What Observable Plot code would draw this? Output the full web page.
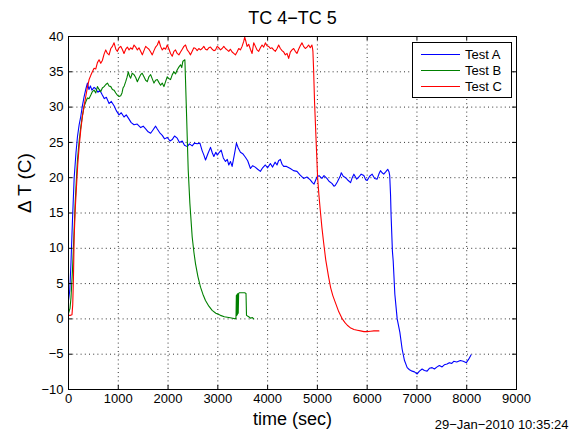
<!DOCTYPE html>
<html>
<head>
<meta charset="utf-8">
<script src="https://cdn.jsdelivr.net/npm/d3@7"></script>
<script src="https://cdn.jsdelivr.net/npm/@observablehq/plot@0.6"></script>
<style>
  body { margin: 0; background: #fff; }
  #wrap { position: relative; width: 574px; height: 434px; font-family: "Liberation Sans", Arial, Helvetica, sans-serif; }
  #legend { position: absolute; left: 412px; top: 42px; }
</style>
</head>
<body>
<div id="wrap"></div>
<script>
// ---- data ----
const xTicks = [0, 1000, 2000, 3000, 4000, 5000, 6000, 7000, 8000, 9000];
const yTicks = [-10, -5, 0, 5, 10, 15, 20, 25, 30, 35, 40];
const seriesNames = ["Test A", "Test B", "Test C"];
const seriesColors = ["#0000ff", "#008000", "#ff0000"];
const titleText = "TC 4\u2212TC 5";
const xLabel = "time (sec)";
const yLabel = "\u0394 T (C)";
const stamp = "29\u2212Jan\u22122010 10:35:24";

// [time (s), delta T (C)]
const testA = [[0,2.6],[25,4],[50,8],[80,14],[114,20],[150,23.5],[180,25.8],[214,27.5],[247,28.7],[280,30.2],[314,31.5],[350,32.6],[380,33.4],[410,32.5],[440,33],[470,32.4],[514,32.8],[548,32.6],[590,32.1],[630,32.4],[680,31.7],[720,31.2],[760,31.4],[815,30.5],[860,30.8],[915,30.2],[960,29.5],[1015,28.9],[1060,29.2],[1115,28.6],[1160,28.9],[1216,28.3],[1260,27.8],[1316,27.5],[1380,27.6],[1450,27.1],[1500,27.3],[1550,26.9],[1600,26.5],[1650,26.3],[1700,26.8],[1750,27.3],[1784,26.9],[1830,26.4],[1884,26],[1930,25.5],[1984,25.7],[2040,25.2],[2084,25.4],[2130,25.9],[2184,25.6],[2230,25],[2285,25.2],[2330,24.6],[2385,24.4],[2430,24.8],[2485,24.5],[2530,24.9],[2585,24.8],[2640,24.9],[2686,23.8],[2720,23.2],[2753,22.5],[2800,23.4],[2853,24.3],[2890,23.5],[2920,23],[2960,23.6],[2987,23.2],[3030,23.6],[3067,23.9],[3110,22.8],[3154,22.3],[3190,22.6],[3220,21.8],[3254,22.3],[3287,21.6],[3330,23.2],[3374,24.9],[3410,24.2],[3454,23.6],[3500,23.4],[3554,22.9],[3600,22.4],[3655,21.3],[3700,21.7],[3750,21.5],[3800,21.2],[3855,20.9],[3900,21.4],[3955,21.8],[4000,21.4],[4055,22],[4100,21.5],[4150,22.2],[4189,21.8],[4220,22.4],[4256,22.6],[4290,21.9],[4323,21.6],[4380,21.6],[4456,21.3],[4520,21],[4590,20.9],[4650,20.4],[4723,19.9],[4790,20.1],[4857,19.7],[4900,19.3],[4933,19.1],[4991,20.1],[5033,20.3],[5091,19.9],[5133,20.3],[5191,19.9],[5233,19.5],[5291,19.2],[5333,18.8],[5358,18.9],[5400,19.4],[5458,20.2],[5480,20.7],[5520,20.2],[5567,20],[5620,19.6],[5667,19.3],[5700,20],[5733,20.5],[5790,19.8],[5833,20.1],[5880,20.5],[5933,20.3],[5970,19.7],[6000,19.6],[6050,20.2],[6100,20.5],[6150,19.9],[6200,19.8],[6240,20.6],[6267,21],[6300,20.7],[6333,20.5],[6380,20.9],[6413,21.2],[6440,20.8],[6453,20.3],[6470,17.5],[6480,14.8],[6507,9.6],[6523,8.2],[6556,3.5],[6603,0],[6657,-1.9],[6703,-4.3],[6750,-5.9],[6804,-6.9],[6850,-7.2],[6904,-7.4],[6950,-7.5],[7004,-7.8],[7050,-7.4],[7104,-7.1],[7150,-7.3],[7204,-7.4],[7250,-7],[7305,-6.9],[7350,-7.1],[7405,-6.8],[7450,-6.6],[7505,-6.8],[7550,-6.5],[7605,-6.4],[7650,-6.2],[7700,-6.3],[7739,-6],[7800,-6.1],[7872,-5.9],[7930,-6],[7993,-6.2],[8040,-5.7],[8086,-5.1]];

const testB = [[0,0.8],[30,1.5],[50,3],[80,6.9],[110,12],[134,16.4],[160,20],[180,22.5],[214,25.2],[247,27.2],[280,28.8],[314,30.1],[350,30.8],[380,31.3],[414,31.2],[448,31.7],[480,32.2],[514,32.4],[548,32],[581,32.9],[615,32.5],[648,32.2],[680,32.7],[715,32.9],[750,33.2],[782,33.4],[815,33],[850,32.9],[882,32.5],[915,32.4],[950,32],[982,31.7],[1015,31.5],[1049,31.6],[1075,32],[1095,32.7],[1120,33],[1149,33.6],[1175,34.2],[1202,35],[1225,34.4],[1249,34.1],[1280,34.8],[1316,34.6],[1350,34.2],[1383,33.6],[1415,34.1],[1450,34.6],[1480,34.8],[1516,34.3],[1550,33.8],[1583,33.6],[1615,34.3],[1650,34.6],[1683,34],[1717,33.4],[1750,33.8],[1783,33.9],[1815,33.5],[1850,33.1],[1883,33.4],[1917,32.9],[1950,33.6],[1984,34.3],[2020,34],[2050,33.9],[2085,34.6],[2118,35],[2150,34.7],[2185,35.3],[2220,35.7],[2251,36],[2275,35.6],[2298,36.5],[2338,36.7],[2350,34],[2365,30.5],[2385,25.8],[2405,21.1],[2438,16.4],[2485,11.6],[2520,9.4],[2552,7.8],[2600,6],[2652,4.5],[2700,3.5],[2752,2.6],[2820,1.8],[2886,1.2],[2960,0.8],[3053,0.5],[3130,0.3],[3220,0.2],[3300,0.1],[3353,0],[3365,0.2],[3372,3.3],[3378,0.5],[3386,3.5],[3392,0.6],[3402,3.6],[3410,0.8],[3418,3.6],[3430,3.7],[3450,3.7],[3500,3.7],[3540,3.7],[3566,3.6],[3576,0.5],[3620,0.3],[3660,0.1],[3690,0.2],[3722,0]];

const testC = [[0,0.5],[40,0.5],[70,0.6],[85,2],[100,6],[114,11.6],[135,15.5],[160,18.7],[185,21.8],[214,24.4],[247,26.8],[280,28.7],[314,30.2],[347,31.5],[380,32.8],[414,33.9],[448,34.5],[480,35],[514,35.5],[548,35.4],[581,36.3],[614,36.7],[648,36.2],[680,36.6],[715,37.5],[748,38.1],[782,37.6],[815,37.4],[850,38.3],[882,38.6],[915,39.1],[950,38.2],[982,37.9],[1015,38.4],[1049,38.6],[1080,38.2],[1115,37.6],[1150,38.2],[1183,38.5],[1216,38.1],[1250,38.4],[1283,38.2],[1316,38.8],[1350,38.5],[1383,38.1],[1416,38.4],[1450,37.9],[1483,37.4],[1516,38],[1550,38.6],[1583,38.4],[1616,38.2],[1650,37.8],[1683,37.4],[1717,38],[1750,38.5],[1784,38.8],[1817,39.4],[1850,38.6],[1884,38.1],[1917,38.4],[1950,38.2],[1984,38.8],[2020,38.2],[2050,37.6],[2084,37.2],[2118,37.9],[2150,38.1],[2184,37.6],[2218,37.4],[2251,37.8],[2285,38.2],[2318,38.6],[2351,38.8],[2385,38.1],[2418,37.8],[2451,37.4],[2485,37.9],[2518,38.4],[2552,38.3],[2585,38],[2618,38.3],[2652,38.1],[2685,38.3],[2718,38.6],[2752,38.2],[2785,38.1],[2818,38.4],[2852,38.5],[2886,38.2],[2920,38],[2953,38.1],[2986,38.6],[3020,38.4],[3053,38.1],[3086,38.3],[3120,38.6],[3153,38.3],[3186,38.1],[3220,37.9],[3253,38.2],[3287,37.8],[3320,37.6],[3353,37.4],[3386,37.8],[3420,38.3],[3453,38.1],[3487,38.6],[3520,39.3],[3540,39.9],[3560,39.4],[3587,38.6],[3620,38.9],[3654,38.2],[3688,37.6],[3721,39.1],[3755,38.6],[3788,38.1],[3821,37.9],[3855,38.4],[3888,38.8],[3921,38.5],[3955,39.1],[3988,38.7],[4021,38.6],[4055,38.3],[4088,38.4],[4122,38.1],[4156,37.9],[4190,38.3],[4222,38.8],[4256,38.3],[4290,38],[4323,37.8],[4356,37.4],[4390,37.6],[4423,36.9],[4456,37.8],[4490,38.1],[4523,38.3],[4556,37.9],[4590,37.6],[4623,38.2],[4656,38.7],[4690,39.1],[4723,38.6],[4757,38.3],[4790,38.5],[4824,38.8],[4857,38.4],[4890,38.8],[4905,38.2],[4910,37.9],[4924,35.3],[4944,30.5],[4971,25.8],[5004,20.1],[5030,17.6],[5058,15.4],[5090,13],[5124,10.9],[5167,8.4],[5224,6],[5267,4.4],[5310,3.3],[5367,2.2],[5430,1],[5501,0],[5550,-0.5],[5601,-0.9],[5670,-1.3],[5735,-1.5],[5800,-1.6],[5868,-1.7],[5935,-1.8],[6000,-1.8],[6070,-1.75],[6136,-1.7],[6200,-1.7],[6236,-1.7]];

const seriesData = [testA, testB, testC];

// ---- layout ----
const W = 574, H = 434, mL = 68, mR = 58, mT = 36, mB = 45;
const frameW = W - mL - mR, frameH = H - mT - mB, tickLen = 4;
const fmt = d => d < 0 ? "\u2212" + (-d) : String(d);

const chart = Plot.plot({
  width: W, height: H,
  marginLeft: mL, marginRight: mR, marginTop: mT, marginBottom: mB,
  x: {domain: [0, 9000]},
  y: {domain: [-10, 40]},
  style: {background: "#fff", color: "#000", fontFamily: "'Liberation Sans', Arial, Helvetica, sans-serif", fontSize: "13px", overflow: "visible"},
  marks: [
    // dotted grid
    Plot.ruleX(xTicks.slice(1, -1), {x: d => d, stroke: "#333", strokeDasharray: "1,3.2", strokeWidth: 1}),
    Plot.ruleY(yTicks.slice(1, -1), {y: d => d, stroke: "#333", strokeDasharray: "1,3.2", strokeWidth: 1}),
    // data
    ...seriesData.map((s, i) => Plot.line(s, {x: d => d[0], y: d => d[1], stroke: seriesColors[i], strokeWidth: 1.1})),
    // inward ticks on all four sides
    Plot.ruleX(xTicks, {x: d => d, insetTop: frameH - tickLen, stroke: "#000"}),
    Plot.ruleX(xTicks, {x: d => d, insetBottom: frameH - tickLen, stroke: "#000"}),
    Plot.ruleY(yTicks, {y: d => d, insetRight: frameW - tickLen, stroke: "#000"}),
    Plot.ruleY(yTicks, {y: d => d, insetLeft: frameW - tickLen, stroke: "#000"}),
    Plot.frame({stroke: "#000", strokeWidth: 1}),
    Plot.axisX(xTicks, {tickSize: 0, tickPadding: 4, tickFormat: fmt, label: null, fontSize: 13}),
    Plot.axisY(yTicks, {tickSize: 0, tickPadding: 5, tickFormat: fmt, label: null, fontSize: 13}),
    // texts
    Plot.text([titleText], {text: d => d, frameAnchor: "top", dy: -18, fontSize: 18, lineAnchor: "middle"}),
    Plot.text([xLabel], {text: d => d, frameAnchor: "bottom", dy: 30, fontSize: 18, lineAnchor: "middle"}),
    Plot.text([yLabel], {text: d => d, frameAnchor: "left", dx: -44, rotate: -90, fontSize: 19, lineAnchor: "middle"}),
    Plot.text([stamp], {text: d => d, frameAnchor: "bottom-right", dx: 52, dy: 35, textAnchor: "end", fontSize: 13, lineAnchor: "middle"})
  ]
});

const wrap = document.getElementById("wrap");
wrap.appendChild(chart);

// legend (SVG overlay built from the series arrays)
const lg = d3.create("svg")
  .attr("id", "legend")
  .attr("width", 100).attr("height", 56)
  .style("font-family", "'Liberation Sans', Arial, Helvetica, sans-serif");
lg.append("rect")
  .attr("x", 0.5).attr("y", 0.5).attr("width", 99).attr("height", 55)
  .attr("fill", "#fff").attr("stroke", "#000").attr("stroke-width", 1);
const rows = lg.selectAll("g.row").data(seriesNames).join("g")
  .attr("class", "row")
  .attr("transform", (d, i) => `translate(0,${12.5 + i * 16})`);
rows.append("line")
  .attr("x1", 9).attr("x2", 48).attr("y1", 0).attr("y2", 0)
  .attr("stroke", (d, i) => seriesColors[i]).attr("stroke-width", 1);
rows.append("text")
  .attr("x", 53).attr("y", 0).attr("dy", "0.35em")
  .attr("font-size", 13).attr("fill", "#000")
  .text(d => d);
wrap.appendChild(lg.node());
</script>
</body>
</html>
